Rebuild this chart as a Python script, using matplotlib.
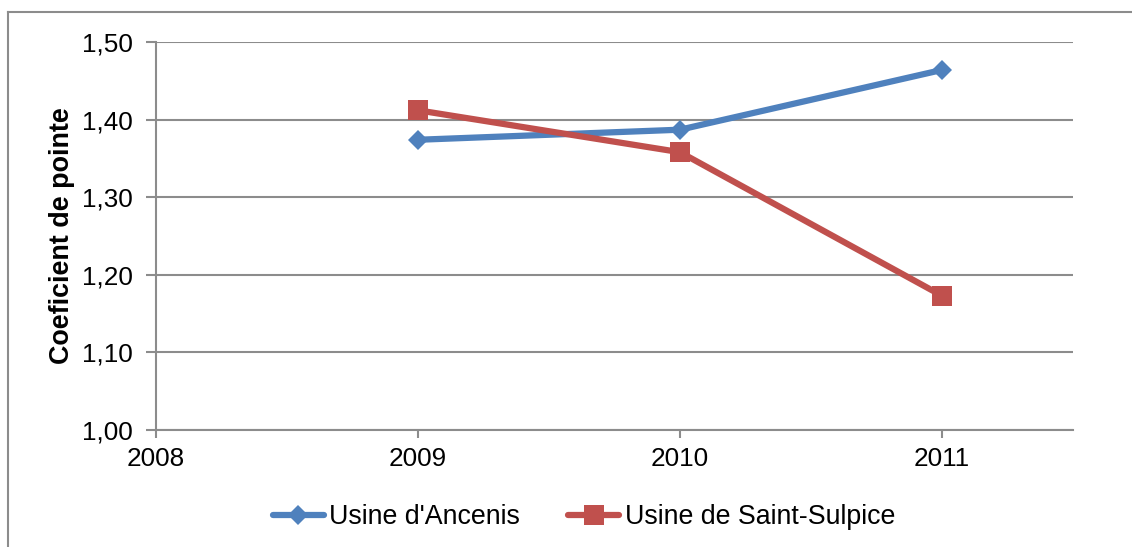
import matplotlib
matplotlib.use("Agg")
import matplotlib.pyplot as plt
from matplotlib.lines import Line2D
from matplotlib.ticker import FuncFormatter

years = [2009, 2010, 2011]
ancenis = [1.374, 1.387, 1.464]
saint_sulpice = [1.412, 1.358, 1.173]
x_ticks = [2008, 2009, 2010, 2011]
y_ticks = [1.00, 1.10, 1.20, 1.30, 1.40, 1.50]
series_names = ["Usine d'Ancenis", "Usine de Saint-Sulpice"]
ylabel = "Coeficient de pointe"

plt.rcParams['font.family'] = ['Liberation Sans', 'DejaVu Sans']

W, H = 1132, 547
fig = plt.figure(figsize=(W / 100, H / 100), dpi=100)
fig.patch.set_facecolor('white')

ax = fig.add_axes([156 / W, 1 - 430 / H, (1073 - 156) / W, (430 - 42) / H])

blue = '#4F81BD'
red = '#C0504D'
grid_c = '#8C8C8C'

ax.plot(years, ancenis, color=blue, lw=4.5, marker='D', ms=10.5,
        markeredgewidth=0, label=series_names[0], solid_capstyle='round', zorder=3)
ax.plot(years, saint_sulpice, color=red, lw=4.5, marker='s', ms=14.4,
        markeredgewidth=0, label=series_names[1], solid_capstyle='round', zorder=3)

ax.set_xlim(2008, 2011.5)
ax.set_ylim(1.0, 1.5)
ax.set_xticks(x_ticks)
ax.set_yticks(y_ticks)
ax.yaxis.set_major_formatter(FuncFormatter(lambda v, p: f"{v:.2f}".replace('.', ',')))
ax.xaxis.set_major_formatter(FuncFormatter(lambda v, p: f"{int(round(v))}"))

ax.grid(axis='y', color=grid_c, lw=1.5)
ax.set_axisbelow(True)
for s in ['top', 'right']:
    ax.spines[s].set_visible(False)
for s in ['left', 'bottom']:
    ax.spines[s].set_color(grid_c)
    ax.spines[s].set_linewidth(1.5)

ax.tick_params(axis='y', length=7, width=1.5, color=grid_c, pad=10, labelsize=18.8)
ax.tick_params(axis='x', length=5.5, width=1.5, color=grid_c, pad=7, labelsize=18.8)

ax.set_ylabel(ylabel, fontsize=19.4, fontweight='bold')
ax.yaxis.set_label_coords((75 - 156) / (1073 - 156), 0.5)

leg = fig.legend(loc='center', bbox_to_anchor=(584 / W, 1 - 517 / H), ncol=2,
                 frameon=False, fontsize=19.3, handlelength=1.9, handletextpad=0.2,
                 columnspacing=1.8)

# outer chart border (cut off on right and bottom)
fig.add_artist(Line2D([8 / W, 8 / W], [0, 1 - 12 / H], transform=fig.transFigure,
                      color=grid_c, lw=1.5))
fig.add_artist(Line2D([8 / W, 1], [1 - 12 / H, 1 - 12 / H], transform=fig.transFigure,
                      color=grid_c, lw=1.5))

fig.savefig('out.png', dpi=100)
